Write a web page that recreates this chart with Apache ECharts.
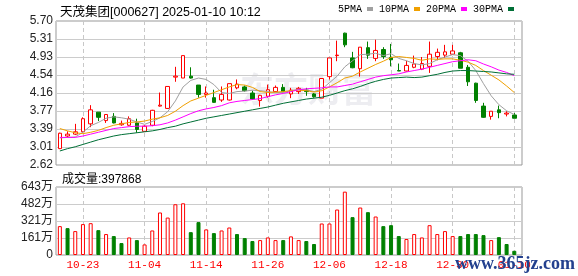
<!DOCTYPE html>
<html><head><meta charset="utf-8">
<script src="https://cdn.jsdelivr.net/npm/echarts@6/dist/echarts.min.js"></script>
<style>html,body{margin:0;padding:0;background:#fff}#c{width:578px;height:276px}</style>
</head><body><div id="c"></div>
<script>
const stockTitle = '天茂集团[000627] 2025-01-10 10:12';
const dates = ['10-18','10-21','10-22','10-23','10-24','10-25','10-28','10-29','10-30','10-31',
 '11-01','11-04','11-05','11-06','11-07','11-08','11-11','11-12','11-13','11-14',
 '11-15','11-18','11-19','11-20','11-21','11-22','11-25','11-26','11-27','11-28',
 '11-29','12-02','12-03','12-04','12-05','12-06','12-09','12-10','12-11','12-12',
 '12-13','12-16','12-17','12-18','12-19','12-20','12-23','12-24','12-25','12-26',
 '12-27','12-30','12-31','01-02','01-03','01-06','01-07','01-08','01-09','01-10'];
const labelDates = ['10-23','11-04','11-14','11-26','12-06','12-18','12-30','01-10'];
const open  = [2.97,3.24,3.28,3.33,3.50,3.75,3.57,3.66,3.48,3.47, 3.52,3.34,3.47,3.88,3.83,4.50,4.48,4.52,4.33,4.13,
 4.06,4.01,4.01,4.27,4.29,4.16,4.00,4.09,4.19,4.28, 4.14,4.19,4.22,4.14,4.05,4.51,4.96,5.44,4.91,4.68,
 5.13,4.90,5.09,4.92,4.64,4.63,4.71,4.67,4.73,4.94, 4.97,4.99,5.02,4.71,4.37,3.88,3.66,3.80,3.71,3.69];
const close = [3.30,3.28,3.33,3.61,3.80,3.64,3.70,3.52,3.51,3.61, 3.38,3.45,3.79,3.90,4.30,4.52,4.96,4.48,4.13,4.16,
 3.96,4.13,4.36,4.35,4.21,4.03,4.11,4.23,4.28,4.19, 4.22,4.26,4.19,4.08,4.47,4.91,4.97,5.19,4.70,5.14,
 4.97,5.07,4.94,4.87,4.63,4.75,4.78,4.79,4.99,5.03, 5.04,5.06,4.69,4.40,4.00,3.64,3.77,3.74,3.73,3.62];
const low   = [2.96,3.21,3.26,3.31,3.43,3.56,3.52,3.51,3.46,3.46, 3.31,3.33,3.45,3.87,3.82,4.40,4.48,4.47,4.06,4.06,
 3.95,3.97,4.00,4.24,4.19,4.02,3.87,4.06,4.18,4.18, 4.05,4.14,4.10,4.06,4.05,4.45,4.84,5.14,4.69,4.51,
 4.89,4.84,4.89,4.73,4.63,4.62,4.69,4.65,4.59,4.86, 4.91,4.98,4.69,4.31,3.95,3.63,3.59,3.62,3.66,3.62];
const high  = [3.31,3.34,3.50,3.64,3.90,3.75,3.70,3.73,3.57,3.66, 3.61,3.47,3.80,4.17,4.30,4.72,4.96,4.71,4.33,4.30,
 4.23,4.30,4.36,4.45,4.32,4.21,4.12,4.34,4.32,4.35, 4.27,4.29,4.27,4.16,4.47,4.91,5.28,5.45,5.04,5.14,
 5.26,5.30,5.14,5.21,4.79,4.85,4.96,4.93,5.26,5.11, 5.19,5.19,5.04,4.76,4.38,3.95,3.77,3.89,3.77,3.73];
const volume = [2730000,2540000,2260000,2920000,3010000,2350000,1980000,1790000,1130000,1660000,
 1410000,1000000,2320000,4020000,3540000,4800000,4890000,2160000,3110000,2420000,
 2070000,2320000,2600000,1980000,1600000,1320000,1410000,1660000,1410000,1410000,
 1760000,1410000,1320000,1040000,2980000,2980000,4300000,5990000,3580000,4490000,
 4050000,3640000,2730000,2820000,1790000,1510000,1980000,1660000,2820000,1980000,
 2260000,1790000,1790000,1980000,1980000,1880000,1410000,1690000,1040000,397868];
const ma5  = [3.20,3.21,3.22,3.32,3.46,3.53,3.62,3.65,3.63,3.60, 3.54,3.49,3.55,3.63,3.76,3.99,4.29,4.43,4.48,4.45,
 4.34,4.17,4.15,4.19,4.20,4.22,4.21,4.19,4.17,4.17, 4.21,4.24,4.23,4.19,4.24,4.38,4.52,4.72,4.85,4.98,
 4.99,5.01,4.96,5.00,4.90,4.85,4.79,4.76,4.79,4.87, 4.93,4.98,4.96,4.84,4.64,4.36,4.10,3.91,3.78,3.70];
const ma10 = [3.40,3.35,3.31,3.29,3.32,3.36,3.42,3.47,3.50,3.53, 3.54,3.56,3.60,3.63,3.68,3.77,3.89,3.99,4.05,4.11,
 4.17,4.23,4.29,4.34,4.33,4.28,4.19,4.17,4.18,4.19, 4.21,4.22,4.21,4.18,4.21,4.29,4.38,4.48,4.52,4.61,
 4.69,4.77,4.84,4.92,4.94,4.92,4.90,4.86,4.89,4.88, 4.89,4.89,4.86,4.82,4.75,4.64,4.54,4.44,4.31,4.17];
const ma20 = [3.21,3.21,3.21,3.24,3.28,3.32,3.36,3.40,3.42,3.44, 3.45,3.45,3.46,3.48,3.52,3.58,3.65,3.72,3.78,3.82,
 3.85,3.89,3.95,3.98,4.00,4.02,4.04,4.08,4.12,4.15, 4.19,4.23,4.25,4.26,4.27,4.29,4.29,4.32,4.35,4.40,
 4.45,4.50,4.53,4.55,4.57,4.61,4.64,4.67,4.71,4.75, 4.79,4.83,4.85,4.87,4.85,4.78,4.72,4.65,4.60,4.53];
const ma30 = [2.92,2.97,3.01,3.06,3.11,3.16,3.20,3.24,3.27,3.29, 3.31,3.33,3.35,3.38,3.42,3.45,3.50,3.54,3.58,3.62,
 3.65,3.68,3.71,3.74,3.77,3.80,3.83,3.86,3.90,3.94, 3.97,4.00,4.03,4.05,4.07,4.11,4.16,4.21,4.25,4.30,
 4.36,4.41,4.45,4.48,4.49,4.50,4.49,4.50,4.53,4.56, 4.60,4.63,4.64,4.64,4.63,4.62,4.61,4.59,4.57,4.56];
const priceTicks = ['2.62','3.01','3.39','3.77','4.16','4.54','4.93','5.31','5.70'];
const volTicks = ['0','161万','321万','482万','643万'];
const priceMin = 2.62, priceMax = 5.70, volMax = 6430000;
const maNames = ['5PMA','10PMA','20PMA','30PMA'];
const maColors = ['#a0a0a0','#f0a000','#ff00ff','#006f36'];

const RED = '#ff0000', GREEN = '#008000';
const tickIdx = labelDates.map(d => dates.indexOf(d));
const candleData = dates.map((d, i) => [i, open[i], close[i], low[i], high[i]]);
const volData = volume.map((v, i) => {
  const up = i === 0 ? close[i] >= open[i] : close[i] >= close[i - 1];
  return { value: [i, v], itemStyle: up ? { color: '#fff', borderColor: RED, borderWidth: 1 } : { color: GREEN, borderColor: GREEN, borderWidth: 1 } };
});
const mas = [ma5, ma10, ma20, ma30];

const chart = echarts.init(document.getElementById('c'), null, { renderer: 'canvas' });
const gridStyle = { show: true, borderColor: '#999', borderWidth: 1, left: 56, right: 56 };
const xBase = (gi, showLabel) => ({
  type: 'value', gridIndex: gi, min: -0.5, max: dates.length,
  axisLine: { show: false },
  axisTick: { show: false, customValues: tickIdx },
  axisLabel: { show: showLabel, customValues: tickIdx, formatter: v => dates[Math.round(v)] || '',
    color: RED, fontFamily: 'Liberation Mono', fontSize: 11, margin: 5 },
  splitLine: { show: true, lineStyle: { color: '#c8c8c8', type: [4, 3], width: 1 } }
});
const labelFont = { color: '#222', fontFamily: 'Liberation Sans, Noto Sans CJK SC', fontSize: 12, margin: 3 };

chart.setOption({
  animation: false,
  backgroundColor: '#fff',
  title: [
    { text: stockTitle, left: 55, top: 1, textStyle: { fontFamily: 'Liberation Sans, Noto Sans CJK SC', fontSize: 12.5, fontWeight: 'normal', color: '#000' } },
    { text: '成交量:' + volume[volume.length - 1], left: 57, top: 169, textStyle: { fontFamily: 'Liberation Sans, Noto Sans CJK SC', fontSize: 12, fontWeight: 'normal', color: '#000' } }
  ],
  legend: {
    left: 338, top: 4, padding: 0, itemWidth: 6, itemHeight: 4, itemGap: 6, align: 'right', icon: 'rect',
    textStyle: { fontFamily: 'Liberation Mono', fontSize: 10, color: '#000', padding: 0 },
    data: maNames
  },
  grid: [
    Object.assign({ top: 21, height: 144 }, gridStyle),
    Object.assign({ top: 187, height: 68 }, gridStyle)
  ],
  xAxis: [xBase(0, false), xBase(1, true)],
  yAxis: [
    { type: 'value', gridIndex: 0, min: priceMin, max: priceMax, show: false },
    { type: 'value', gridIndex: 0, position: 'left', min: 0, max: priceTicks.length - 1, interval: 1,
      axisLine: { show: false }, axisTick: { show: false },
      axisLabel: Object.assign({ formatter: v => priceTicks[Math.round(v)] }, labelFont),
      splitLine: { lineStyle: { color: '#cccccc', width: 1 } } },
    { type: 'value', gridIndex: 1, min: 0, max: volMax, show: false },
    { type: 'value', gridIndex: 1, position: 'left', min: 0, max: volTicks.length - 1, interval: 1,
      axisLine: { show: false }, axisTick: { show: false },
      axisLabel: Object.assign({ formatter: v => volTicks[Math.round(v)] }, labelFont),
      splitLine: { lineStyle: { color: '#cccccc', width: 1 } } }
  ],
  graphic: [
    { type: 'text', left: 240, top: 72, z: -1, silent: true,
      style: { text: '东方财富', font: 'bold 34px "Noto Sans CJK SC"', fill: 'rgba(210,210,220,0.4)' } },
    { type: 'text', left: 455, top: 255, z: 100, silent: true,
      style: { text: 'www.365jz.com', font: 'bold 18px "Liberation Serif"', fill: '#23408e' } }
  ],
  series: [
    { type: 'candlestick', xAxisIndex: 0, yAxisIndex: 0, data: candleData, encode: { x: 0, y: [1, 2, 3, 4] },
      barWidth: 4, z: 3,
      itemStyle: { color: '#fff', color0: GREEN, borderColor: RED, borderColor0: GREEN, borderWidth: 1 } },
    ...mas.map((arr, k) => ({
      type: 'line', name: maNames[k], xAxisIndex: 0, yAxisIndex: 0, color: maColors[k],
      data: arr.map((v, i) => [i, v]), symbol: 'none', z: 4,
      lineStyle: { width: 1, color: maColors[k] }
    })),
    { type: 'bar', xAxisIndex: 1, yAxisIndex: 2, data: volData, barWidth: 4, z: 3 }
  ]
});
</script></body></html>
